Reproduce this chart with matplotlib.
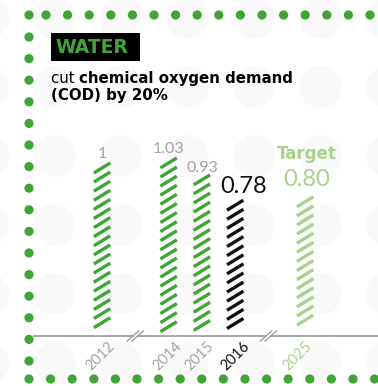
import matplotlib

matplotlib.use("Agg")

import numpy as np
import matplotlib.pyplot as plt
from matplotlib.patches import Circle, Rectangle
from matplotlib.collections import LineCollection

plt.rcParams["font.family"] = ["Lato", "DejaVu Sans"]

# chart data
years = ["2012", "2014", "2015", "2016", "2025"]
cod_values = [1.00, 1.03, 0.93, 0.78, 0.80]
value_labels = ["1", "1.03", "0.93", "0.78", "0.80"]
slots = [0, 2, 3, 4, 6.1]          # x slots (gaps where years are skipped)
break_slots = [1, 5]

GREEN = "#3fa535"
LIGHT_GREEN = "#a9d18e"
GREY = "#a3a3a3"
BLACK = "#111111"
bar_colors = [GREEN, GREEN, GREEN, BLACK, LIGHT_GREEN]
label_colors = [GREY, GREY, GREY, BLACK, LIGHT_GREEN]
label_sizes = [11.5, 11.5, 11.5, 17, 17]
label_offsets = [(0, 5), (0, 5), (0, 3), (8, 7), (1, 11)]
tick_offsets = [-1, -1, -2, 0, -8]
tick_colors = [GREY, GREY, GREY, BLACK, LIGHT_GREEN]

W, H = 378, 386
fig = plt.figure(figsize=(W / 100, H / 100), dpi=100)
fig.patch.set_facecolor("white")

# background layer in pixel coordinates
bg = fig.add_axes([0, 0, 1, 1], zorder=0)
bg.set_xlim(0, W)
bg.set_ylim(H, 0)
bg.axis("off")

for cx in np.arange(-12, W + 40, 66.5):
    for cy in np.arange(18, H + 40, 69):
        bg.add_patch(Circle((cx, cy), 21, color="#f9f9f9", lw=0))

# dotted frame
dots = [(29, 15), (29, 379)]
dots += [(x, 15) for x in np.arange(46, W + 5, 21.6)]
dots += [(29, y) for y in np.arange(37, 365, 21.6)]
dots += [(x, 379) for x in np.arange(50.6, W + 5, 21.6)]
for x, y in dots:
    bg.add_patch(Circle((x, y), 4.6, color=GREEN, lw=0))

# heading
bold_font = ["DejaVu Sans"]
bg.add_patch(Rectangle((51, 33), 89, 28, color="black", lw=0))
bg.text(55, 47.5, "WATER", color=GREEN, fontsize=13.5, fontweight="bold",
        family=bold_font, va="center", ha="left")
t1 = bg.text(51, 83, "cut ", fontsize=10.8, color="black", va="baseline",
             family=bold_font)
bg.annotate("chemical oxygen demand", xy=(1, 0), xycoords=t1, fontsize=10.8,
            fontweight="bold", color="black", va="bottom", family=bold_font)
bg.text(51, 100, "(COD) by 20%", fontsize=10.8, fontweight="bold",
        color="black", va="baseline", family=bold_font)

# bar area: y=0 sits at pixel 332, 169 px per unit
px_unit = 169.0
px_slot = 33.3
y0, y1 = -0.3, 1.3
ax = fig.add_axes([33 / W, (H - 332 - (-y0) * px_unit) / H,
                   (W - 33) / W, (y1 - y0) * px_unit / H], zorder=1)
ax.set_xlim((33 - 102) / px_slot, (W - 102) / px_slot)
ax.set_ylim(y0, y1)
ax.axis("off")

# baseline with break marks
base = -4 / px_unit
ax.axhline(base, color="#a0a0a0", lw=1.3)
for b in break_slots:
    ax.plot([b - 0.05, b + 0.05], [base, base], color="white", lw=3,
            solid_capstyle="butt")
    for off in (-0.07, 0.07):
        ax.plot([b + off - 0.17, b + off + 0.17],
                [base - 5 / px_unit, base + 5 / px_unit],
                color="#a0a0a0", lw=1.0)

# hatched bars: stacked slanted dashes from 0 up to the value
half_w = 8.2 / px_slot
dash_h = 10 / px_unit
step = 9.1 / px_unit
for x, v, c in zip(slots, cod_values, bar_colors):
    segs = []
    top = v
    while top - dash_h >= -0.005:
        segs.append([(x - half_w, top - dash_h), (x + half_w, top)])
        top -= step
    ax.add_collection(LineCollection(segs, colors=c, linewidths=2.4,
                                     capstyle="butt"))

# value labels
for x, v, lab, c, s, (dx, dy) in zip(slots, cod_values, value_labels,
                                     label_colors, label_sizes, label_offsets):
    ax.annotate(lab, xy=(x, v), xytext=(dx, dy), textcoords="offset pixels",
                ha="center", va="baseline", color=c, fontsize=s,
                fontweight="normal")
ax.annotate("Target", xy=(slots[-1], cod_values[-1]), xytext=(2, 38),
            textcoords="offset pixels", ha="center", va="baseline",
            color=LIGHT_GREEN, fontsize=12, fontweight="bold",
            family=bold_font)

# rotated year labels
for x, yr, c, dx in zip(slots, years, tick_colors, tick_offsets):
    ax.annotate(yr, xy=(x, 0), xytext=(dx, -24), textcoords="offset pixels",
                ha="center", va="center", rotation=45, color=c, fontsize=10.5,
                fontweight="normal")

fig.savefig("out.png", dpi=100)
